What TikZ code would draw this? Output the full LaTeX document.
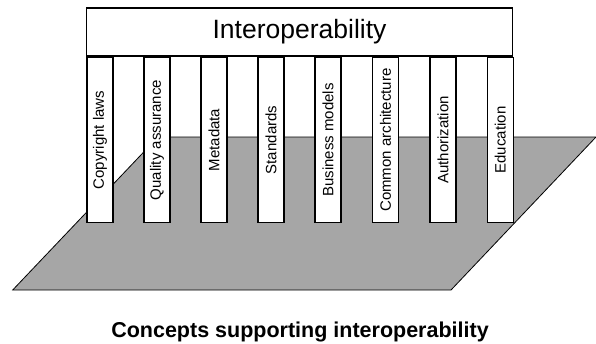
\documentclass[tikz,border=0pt]{standalone}
\usepackage{fontspec}
\setmainfont{Liberation Sans}
\definecolor{floorgray}{RGB}{166,166,166}
\begin{document}
\begin{tikzpicture}[x=1pt,y=-1pt,
  pillar/.style={draw=black, line width=1.3pt, fill=white, rotate=90,
    minimum width=165pt, minimum height=26pt, inner sep=0pt,
    font=\fontsize{15}{15}\selectfont},
  roofbox/.style={draw=black, line width=1.3pt, fill=white,
    minimum width=426pt, minimum height=48pt, inner sep=0pt,
    font=\fontsize{26.5}{26.5}\selectfont},
  floor/.style={draw=black, line width=0.8pt, fill=floorgray}]
\useasboundingbox (0,0) rectangle (596,343);
\coordinate (fbl) at (12.7,290);
\coordinate (fbr) at (451,290);
\coordinate (ftr) at (596,137);
\coordinate (ftl) at (158,137);
\draw[floor] (fbl) -- (fbr) -- (ftr) -- (ftl) -- cycle;
\node[pillar] (p1) at (100,140) {Copyright laws};
\node[pillar] (p2) at (157,140) {Quality assurance};
\node[pillar] (p3) at (214,140) {Metadata};
\node[pillar] (p4) at (271,140) {Standards};
\node[pillar] (p5) at (328,140) {Business models};
\node[pillar] (p6) at (385.5,140) {Common architecture};
\node[pillar] (p7) at (443,140) {Authorization};
\node[pillar] (p8) at (500.3,140) {Education};
\node[roofbox] (roof) at (299.5,32) {Interoperability};
\node[font=\fontsize{21.5}{21.5}\selectfont\bfseries, anchor=base] (cap) at (300,337) {Concepts supporting interoperability};
\end{tikzpicture}
\end{document}
